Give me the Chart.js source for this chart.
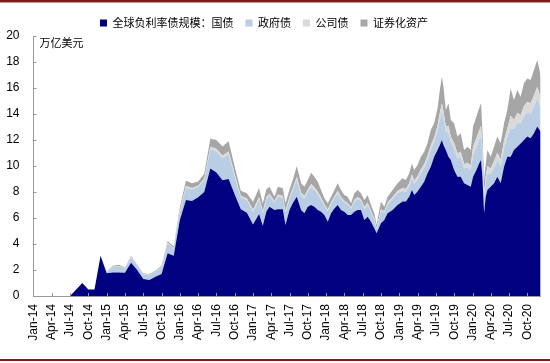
<!DOCTYPE html>
<html>
<head>
<meta charset="utf-8">
<script src="https://cdn.jsdelivr.net/npm/chart.js@4/dist/chart.umd.min.js"></script>
<style>
  html, body { margin: 0; padding: 0; background: #fff; }
  #wrap { position: relative; width: 550px; height: 363px; }
  #topline { position: absolute; left: 0; top: 0; width: 550px; height: 2px; background: #7d1a1c; }
  #topline2 { position: absolute; left: 0; top: 2px; width: 550px; height: 1px; background: #c99a9a; }
  #botline { position: absolute; left: 0; top: 359px; width: 550px; height: 2px; background: #7d1a1c; }
</style>
</head>
<body>
<div id="wrap">
  <canvas id="c" width="550" height="363"></canvas>
  <div id="topline"></div><div id="topline2"></div><div id="botline"></div>
</div>
<script>
// x positions: months since Jan 2014 (0 = Jan-14)
const monthIndex = [0,1,2,3,4,5,6,7,8,9,10,11,12,13,14,15,16,17,18,19,20,21,22,23,24,25,26,27,28,29,30,31,32,33,34,35,
  36,37,37.6,38.2,38.71,39.52,40.07,40.89,41.32,41.98,42.52,43.18,43.89,44.43,44.98,45.53,46.07,46.62,47.16,47.71,48.26,48.8,49.35,49.89,50.44,50.98,51.53,52.07,52.62,53.17,53.71,54.26,54.8,55.35,55.89,56.27,56.98,57.53,58.07,58.89,59.71,
  60.53,61.07,61.62,62.06,62.44,62.98,63.53,64.07,64.62,65.16,65.71,66.26,66.64,66.97,67.24,67.62,68.06,68.44,68.98,69.53,70.07,70.62,71.17,71.71,
  72.09,72.64,73.08,73.4,73.62,73.9,74.17,74.44,74.98,75.53,76.07,76.62,77.17,77.71,78.26,78.8,79.35,79.89,80.44,80.98,81.53,82.07,82.62,83.0,83.17];

// 国债
const govBonds = [0,0,0,0,0,0,0,0.5,1.0,0.5,0.5,3.1,1.75,1.8,1.8,1.78,2.56,2.0,1.3,1.23,1.49,1.69,3.28,3.1,5.85,7.38,7.3,7.6,8.0,9.8,9.5,8.9,9.0,7.8,6.67,6.4,
  5.5,6.3,5.4,6.5,6.87,6.62,6.67,6.67,5.46,6.62,7.13,7.64,6.62,6.36,6.87,7.0,6.87,6.62,6.49,6.23,5.72,6.36,6.74,7.0,6.62,6.49,6.23,6.23,6.49,6.62,6.62,5.85,6.1,5.72,5.21,4.82,5.59,5.85,6.36,6.62,7.0,
  7.26,7.26,7.64,8.15,7.77,8.03,8.41,8.79,9.44,9.95,10.72,11.23,11.62,12.0,11.62,11.23,10.72,10.46,9.69,9.18,9.18,8.67,8.54,8.41,
  9.18,9.69,10.2,10.46,9.18,6.36,7.64,8.15,8.41,8.67,9.18,8.67,9.95,10.72,10.72,11.23,11.49,11.74,12.0,12.26,12.13,12.51,13.03,12.77,12.64];

// 政府债
const agencyBonds = [0,0,0,0,0,0,0,0,0,0,0,0,0.1,0.42,0.48,0.32,0.43,0.32,0.35,0.37,0.37,0.51,0.76,0.56,0.62,0.97,0.89,0.78,0.91,1.5,1.62,1.69,1.88,1.4,0.93,0.98,
  0.96,1.1,0.94,0.94,0.85,0.56,0.96,0.89,0.92,0.84,0.98,1.3,1.13,1.13,1.13,1.37,1.27,1.19,0.91,0.7,0.78,0.7,0.78,0.92,0.84,0.7,0.78,0.5,0.78,0.84,0.7,0.84,0.92,0.7,0.63,0.35,0.92,0.56,0.7,0.84,0.92,
  0.81,0.75,0.81,0.92,0.86,0.92,1.04,1.04,1.04,1.27,1.15,1.44,1.9,2.19,2.02,1.39,1.85,1.39,1.62,1.39,1.5,1.15,1.33,1.27,
  1.62,1.73,1.78,1.83,1.51,1.08,1.08,1.29,0.97,1.18,1.29,1.29,1.4,1.51,2.2,1.62,1.83,1.51,1.83,1.88,1.88,2.05,2.15,1.94,1.78];

// 公司债
const corpBonds = [0,0,0,0,0,0,0,0,0,0,0,0,0.01,0.03,0.03,0.02,0.03,0.02,0.02,0.03,0.02,0.03,0.05,0.04,0.08,0.12,0.11,0.1,0.11,0.18,0.2,0.21,0.23,0.17,0.11,0.12,
  0.18,0.2,0.17,0.17,0.15,0.1,0.17,0.16,0.17,0.15,0.18,0.24,0.2,0.2,0.2,0.25,0.23,0.22,0.17,0.13,0.14,0.13,0.14,0.17,0.15,0.13,0.14,0.09,0.14,0.15,0.13,0.15,0.17,0.13,0.12,0.06,0.17,0.1,0.13,0.15,0.17,
  0.23,0.22,0.23,0.27,0.25,0.27,0.3,0.3,0.3,0.37,0.33,0.42,0.55,0.63,0.58,0.4,0.53,0.4,0.47,0.4,0.43,0.33,0.38,0.37,
  0.69,0.74,0.76,0.78,0.65,0.46,0.46,0.55,0.42,0.51,0.55,0.55,0.6,0.65,0.95,0.69,0.78,0.65,0.78,0.81,0.81,0.88,0.92,0.83,0.76];

// 证券化资产
const securitized = [0,0,0,0,0,0,0,0,0,0,0,0,0.02,0.08,0.09,0.06,0.08,0.06,0.07,0.07,0.07,0.1,0.14,0.1,0.25,0.4,0.37,0.32,0.38,0.62,0.68,0.7,0.79,0.58,0.39,0.4,
  0.61,0.7,0.6,0.6,0.54,0.36,0.61,0.56,0.58,0.54,0.63,0.82,0.72,0.72,0.72,0.87,0.81,0.76,0.58,0.45,0.49,0.45,0.49,0.58,0.54,0.45,0.49,0.31,0.49,0.54,0.45,0.54,0.58,0.45,0.4,0.23,0.58,0.36,0.45,0.54,0.58,
  0.75,0.69,0.76,0.86,0.81,0.86,0.97,0.97,0.97,1.18,1.08,1.35,1.78,2.05,1.88,1.29,1.72,1.29,1.5,1.29,1.4,1.08,1.24,1.18,
  1.54,1.64,1.7,1.75,1.43,1.02,1.02,1.24,0.92,1.13,1.24,1.24,1.33,1.43,2.1,1.54,1.75,1.43,1.75,1.79,1.79,1.94,2.05,1.84,1.69];

const tickLabels = ["Jan-14","Apr-14","Jul-14","Oct-14","Jan-15","Apr-15","Jul-15","Oct-15","Jan-16","Apr-16","Jul-16","Oct-16",
  "Jan-17","Apr-17","Jul-17","Oct-17","Jan-18","Apr-18","Jul-18","Oct-18","Jan-19","Apr-19","Jul-19","Oct-19","Jan-20","Apr-20","Jul-20","Oct-20"];

const seriesNames = ["全球负利率债规模：国债","政府债","公司债","证券化资产"];
const unitLabel = "万亿美元";

const toPts = arr => monthIndex.map((x, i) => ({x: x, y: arr[i]}));
const colors = ['#000080', '#b9cde5', '#dadada', '#a6a6a6'];
const allSeries = [govBonds, agencyBonds, corpBonds, securitized];

const datasets = allSeries.map((arr, k) => ({
  label: seriesNames[k],
  data: toPts(arr),
  backgroundColor: colors[k],
  borderColor: colors[k],
  borderWidth: 0,
  pointRadius: 0,
  tension: 0,
  fill: k === 0 ? 'origin' : '-1'
}));

const decor = {
  id: 'decor',
  afterLayout(chart) {
    if (chart.legend) { chart.legend.left -= 7; chart.legend.right -= 7; }
  },
  afterDatasetsDraw(chart) {
    const {ctx, chartArea, scales} = chart;
    ctx.save();
    ctx.strokeStyle = '#999';
    ctx.lineWidth = 1;
    ctx.beginPath();
    for (let v = 0; v <= 20; v += 2) {
      const y = Math.round(scales.y.getPixelForValue(v)) + 0.5;
      ctx.moveTo(chartArea.left, y);
      ctx.lineTo(chartArea.left + 3, y);
    }
    for (let i = 1; i < tickLabels.length; i++) {
      const x = Math.round(scales.x.getPixelForValue(i * 3)) + 0.5;
      ctx.moveTo(x, chartArea.bottom);
      ctx.lineTo(x, chartArea.bottom - 3);
    }
    ctx.stroke();
    ctx.fillStyle = '#000';
    ctx.font = '11px "Noto Sans CJK SC"';
    ctx.textBaseline = 'middle';
    ctx.textAlign = 'left';
    ctx.fillText(unitLabel, chartArea.left + 6, chartArea.top + 7);
    ctx.restore();
  }
};

new Chart(document.getElementById('c'), {
  type: 'line',
  data: {datasets: datasets},
  options: {
    responsive: false,
    animation: false,
    layout: {padding: {left: 0, right: 8, top: 5.5, bottom: 0}},
    plugins: {
      legend: {
        position: 'top',
        maxHeight: 30.5,
        labels: {
          boxWidth: 7, boxHeight: 7, padding: 12, color: '#000',
          font: {size: 11, family: '"Noto Sans CJK SC"'}
        }
      },
      tooltip: {enabled: false}
    },
    scales: {
      x: {
        type: 'linear', min: 0, max: 83.2,
        grid: {display: false, drawTicks: false},
        border: {display: true, color: '#999'},
        ticks: {
          autoSkip: false, minRotation: 90, maxRotation: 90, padding: 8,
          color: '#000', font: {size: 12, family: '"Liberation Sans", Arial'},
          callback: v => tickLabels[Math.round(v / 3)]
        },
        afterBuildTicks: s => { s.ticks = tickLabels.map((_, i) => ({value: i * 3})); },
        afterFit: s => { s.height = 67; }
      },
      y: {
        stacked: true, min: 0, max: 20,
        grid: {display: false, drawTicks: false},
        border: {display: true, color: '#999'},
        ticks: {stepSize: 2, padding: 14, color: '#000', font: {size: 12, family: '"Liberation Sans", Arial'}},
        afterFit: s => { s.width = 33.5; }
      }
    }
  },
  plugins: [decor]
});
</script>
</body>
</html>
